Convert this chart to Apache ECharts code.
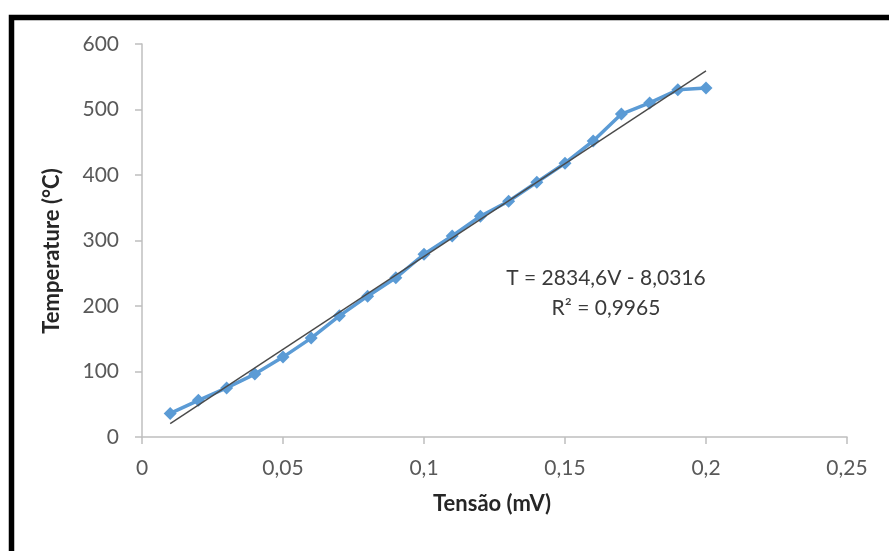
<!DOCTYPE html>
<html>
<head>
<meta charset="utf-8">
<script src="https://cdn.jsdelivr.net/npm/echarts@6/dist/echarts.min.js"></script>
<style>
  html, body { margin: 0; padding: 0; background: #fff; }
  #chart { width: 889px; height: 551px; }
</style>
</head>
<body>
<div id="chart"></div>
<script>
// Thermocouple calibration: voltage (mV) vs temperature (°C)
const voltage = [0.01, 0.02, 0.03, 0.04, 0.05, 0.06, 0.07, 0.08, 0.09, 0.10,
                 0.11, 0.12, 0.13, 0.14, 0.15, 0.16, 0.17, 0.18, 0.19, 0.20];
const temperature = [36, 56, 75, 96, 122, 151, 185, 215, 243, 279,
                     307, 337, 360, 389, 418, 452, 493, 510, 530, 533];

// Linear fit reported on the chart
const slope = 2834.6;
const intercept = -8.0316;
const rSquared = '0,9965';
const fitText = 'T = 2834,6V - 8,0316';

const xTicks = { min: 0, max: 0.25, step: 0.05 };
const yTicks = { min: 0, max: 600, step: 100 };

const measured = voltage.map((v, i) => [v, temperature[i]]);
const vFirst = voltage[0], vLast = voltage[voltage.length - 1];
const fitLine = [[vFirst, slope * vFirst + intercept], [vLast, slope * vLast + intercept]];

const font = 'Lato, "Open Sans", sans-serif';
const chart = echarts.init(document.getElementById('chart'), null, { renderer: 'canvas' });

chart.setOption({
  animation: false,
  backgroundColor: '#ffffff',
  grid: { left: 142, right: 42, top: 44, bottom: 114, containLabel: false },
  xAxis: {
    type: 'value',
    min: xTicks.min, max: xTicks.max, interval: xTicks.step,
    axisLine: { show: true, lineStyle: { color: '#bfbfbf', width: 1.5 } },
    axisTick: { show: true, length: 7, inside: false, lineStyle: { color: '#bfbfbf', width: 1.5 } },
    splitLine: { show: false },
    axisLabel: {
      margin: 21, color: '#595959', fontSize: 21, fontFamily: font,
      formatter: v => String(+v.toFixed(2)).replace('.', ',')
    }
  },
  yAxis: {
    type: 'value',
    min: yTicks.min, max: yTicks.max, interval: yTicks.step,
    axisLine: { show: true, lineStyle: { color: '#bfbfbf', width: 1.5 } },
    axisTick: { show: true, length: 7, lineStyle: { color: '#bfbfbf', width: 1.5 } },
    splitLine: { show: false },
    axisLabel: { margin: 23, color: '#595959', fontSize: 21, fontFamily: font }
  },
  series: [
    {
      name: 'fit',
      type: 'line',
      data: fitLine,
      symbol: 'none',
      lineStyle: { color: '#4a4a4a', width: 1.4 },
      z: 3
    },
    {
      name: 'measured',
      type: 'line',
      data: measured,
      symbol: 'diamond',
      symbolSize: 13,
      showSymbol: true,
      itemStyle: { color: '#5B9BD5' },
      lineStyle: { color: '#5B9BD5', width: 3.5 },
      z: 2
    }
  ],
  graphic: [
    {
      type: 'rect', silent: true,
      shape: { x: 11.5, y: 17.5, width: 1000, height: 1000 },
      style: { fill: 'none', stroke: '#000', lineWidth: 5.5 },
      z: 10
    },
    {
      type: 'text', silent: true,
      x: 52, y: 251, rotation: Math.PI / 2,
      style: {
        text: 'Temperature (°C)', fill: '#262626',
        font: 'bold 22px ' + font, align: 'center', verticalAlign: 'middle'
      }
    },
    {
      type: 'text', silent: true,
      x: 492, y: 504,
      style: {
        text: 'Tensão (mV)', fill: '#262626',
        font: 'bold 22px ' + font, align: 'center', verticalAlign: 'middle'
      }
    },
    {
      type: 'text', silent: true,
      x: 606, y: 278,
      style: {
        text: fitText, fill: '#3a3a3a',
        font: '21px ' + font, align: 'center', verticalAlign: 'middle'
      }
    },
    {
      type: 'text', silent: true,
      x: 606, y: 308,
      style: {
        text: 'R² = ' + rSquared, fill: '#3a3a3a',
        font: '21px ' + font, align: 'center', verticalAlign: 'middle'
      }
    }
  ]
});
</script>
</body>
</html>
